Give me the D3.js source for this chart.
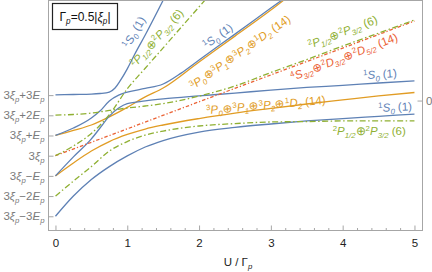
<!DOCTYPE html>
<html>
<head>
<meta charset="utf-8">
<script src="https://cdn.jsdelivr.net/npm/d3@7"></script>
<style>
  body { margin: 0; background: #fff; }
  text { font-family: "Liberation Sans", Arial, sans-serif; }
</style>
</head>
<body>
<svg id="chart" width="432" height="272"></svg>
<script>
// x: U / Gamma_p, y: energy in units of E_p measured from 3 xi_p
const uTicks = [0, 1, 2, 3, 4, 5];
const levelTicks = [3, 2, 1, 0, -1, -2, -3];
const levelTickLabels = ["+3", "+2", "+", "", "\u2212", "\u22122", "\u22123"];
const rightTicks = [{ v: 2.73, label: "0" }];

const uGrid = [0, 0.25, 0.5, 0.75, 1, 1.25, 1.5, 2, 2.5, 3, 3.5, 4, 4.5, 5];

// 1S0 (1) levels
const blueA_u = [0, 0.25, 0.5, 0.62, 0.75, 0.83, 0.9, 1, 1.1, 1.25, 1.5, 1.75];
const blueA_v = [3.01, 3.03, 3.05, 3.08, 3.15, 3.35, 3.7, 4.3, 5.0, 5.98, 7.7, 9.5];
const blueB_u = [0, 0.25, 0.5, 0.62, 0.75, 0.88, 1, 1.25, 1.5, 1.75, 2, 2.5, 3, 3.25];
const blueB_v = [1.0, 1.37, 1.87, 2.21, 2.71, 3.0, 3.15, 3.33, 3.55, 4.09, 4.74, 6.02, 7.31, 7.95];
const blueC_u = [0, 0.25, 0.5, 0.62, 0.75, 0.88, 1, 1.25, 1.5, 2, 2.5, 3, 3.5, 4, 4.5, 5];
const blueC_v = [-1.0, -0.06, 0.83, 1.37, 1.96, 2.36, 2.58, 2.71, 2.81, 2.96, 3.1, 3.25, 3.38, 3.48, 3.6, 3.7];
const blueD_v = [-3.0, -2.0, -1.18, -0.54, -0.01, 0.43, 0.75, 1.17, 1.4, 1.57, 1.72, 1.84, 1.95, 2.06];

// 2P1/2 + 2P3/2 (6) levels
const greenA_u = [0, 0.25, 0.5, 0.75, 1, 1.25, 1.5, 2, 2.25];
const greenA_v = [0, 0.48, 1.1, 2.03, 3.31, 4.33, 5.34, 7.37, 8.39];
const greenB_v = [2.01, 2.04, 2.11, 2.24, 2.36, 2.46, 2.58, 2.95, 3.45, 4.12, 4.76, 5.43, 6.07, 6.72];
const greenC_v = [-2.0, -1.26, -0.54, 0.23, 0.7, 1.02, 1.22, 1.47, 1.59, 1.67, 1.69, 1.72, 1.72, 1.72];

// 3P + 1D (14) levels
const orangeA_u = [0, 0.25, 0.5, 0.75, 1, 1.25, 1.5, 2, 2.5, 3, 3.25];
const orangeA_v = [1.0, 1.25, 1.52, 1.92, 2.39, 2.91, 3.35, 4.64, 5.92, 7.21, 7.9];
const orangeB_v = [-1.0, -0.36, 0.23, 0.7, 1.05, 1.32, 1.52, 1.84, 2.11, 2.34, 2.56, 2.76, 2.96, 3.13];

// 4S + 2D (14) level
const red_u = [0, 1, 2, 3, 4, 5];
const red_v = [0, 1.33, 2.67, 4.0, 5.33, 6.67];

const COLORS = { blue: "#5e81b5", orange: "#e19c24", green: "#8fb032", red: "#eb6235" };
const DASH = { blue: null, orange: null, green: "6,2.5,1.5,2.5", red: "3.5,2,1.2,2" };

const series = [
  { kind: "orange", u: orangeA_u, v: orangeA_v },
  { kind: "orange", u: uGrid, v: orangeB_v },
  { kind: "blue", u: blueA_u, v: blueA_v },
  { kind: "blue", u: blueB_u, v: blueB_v },
  { kind: "blue", u: blueC_u, v: blueC_v },
  { kind: "blue", u: uGrid, v: blueD_v },
  { kind: "red", u: red_u, v: red_v },
  { kind: "green", u: greenA_u, v: greenA_v },
  { kind: "green", u: uGrid, v: greenB_v },
  { kind: "green", u: uGrid, v: greenC_v },
];

// term labels: segments are [style, text]
const S1 = [["sup", "1"], ["it", "S"], ["sub", "0"], ["n", " (1)"]];
const P6 = [["sup", "2"], ["it", "P"], ["sub", "1/2"], ["n", "\u2295"], ["sup", "2"], ["it", "P"], ["sub", "3/2"], ["n", " (6)"]];
const PD14 = [["sup", "3"], ["it", "P"], ["sub", "0"], ["n", "\u2295"], ["sup", "3"], ["it", "P"], ["sub", "1"], ["n", "\u2295"],
  ["sup", "3"], ["it", "P"], ["sub", "2"], ["n", "\u2295"], ["sup", "1"], ["it", "D"], ["sub", "2"], ["n", " (14)"]];
const SD14 = [["sup", "4"], ["it", "S"], ["sub", "3/2"], ["n", "\u2295"], ["sup", "2"], ["it", "D"], ["sub", "3/2"], ["n", "\u2295"],
  ["sup", "2"], ["it", "D"], ["sub", "5/2"], ["n", " (14)"]];

const termLabels = [
  { parts: S1, kind: "blue", u: 1.093, v: 6.12, angle: -60 },
  { parts: P6, kind: "green", u: 1.41, v: 5.83, angle: -48 },
  { parts: S1, kind: "blue", u: 2.26, v: 5.93, angle: -36 },
  { parts: PD14, kind: "orange", u: 2.57, v: 5.13, angle: -35 },
  { parts: P6, kind: "green", u: 4.0, v: 6.12, angle: -21 },
  { parts: SD14, kind: "red", u: 4.02, v: 4.89, angle: -21 },
  { parts: S1, kind: "blue", u: 4.52, v: 4.04, angle: -4 },
  { parts: PD14, kind: "orange", u: 2.93, v: 2.51, angle: -5 },
  { parts: S1, kind: "blue", u: 4.73, v: 2.41, angle: -3 },
  { parts: P6, kind: "green", u: 4.37, v: 1.22, angle: 0 },
];

const svg = d3.select("#chart");
const plot = { left: 48, right: 422, top: 0, bottom: 230 };

const x = d3.scaleLinear().domain([-0.104, 5.105]).range([plot.left, plot.right]);
const y = d3.scaleLinear().domain([-3.68, 7.71]).range([plot.bottom, plot.top]);

svg.append("defs").append("clipPath").attr("id", "plot-clip")
  .append("rect")
  .attr("x", plot.left).attr("y", plot.top)
  .attr("width", plot.right - plot.left).attr("height", plot.bottom - plot.top);

const line = d3.line()
  .x((d) => x(d[0]))
  .y((d) => y(d[1]))
  .curve(d3.curveMonotoneX);

const curves = svg.append("g").attr("clip-path", "url(#plot-clip)");
curves.selectAll("path")
  .data(series)
  .join("path")
  .attr("d", (s) => line(s.u.map((u, i) => [u, s.v[i]])))
  .attr("fill", "none")
  .attr("stroke", (s) => COLORS[s.kind])
  .attr("stroke-width", 1.3)
  .attr("stroke-dasharray", (s) => DASH[s.kind]);

// small script helpers (numeric shifts render more predictably than "sub"/"super")
function sub(textSel, str) {
  return textSel.append("tspan").text(str)
    .attr("font-size", "68%").attr("baseline-shift", -2.5).attr("font-style", "italic");
}
function sup(textSel, str) {
  return textSel.append("tspan").text(str)
    .attr("font-size", "68%").attr("baseline-shift", 4);
}

function writeParts(textSel, parts) {
  parts.forEach(([style, str]) => {
    if (style === "sup") return sup(textSel, str);
    if (style === "sub") return sub(textSel, str);
    const t = textSel.append("tspan").text(str);
    if (style === "it") t.attr("font-style", "italic");
  });
}

const labelG = svg.append("g").attr("clip-path", "url(#plot-clip)");
termLabels.forEach((l) => {
  const t = labelG.append("text")
    .attr("transform", `translate(${x(l.u)},${y(l.v)}) rotate(${l.angle})`)
    .attr("y", 4)
    .attr("text-anchor", "middle")
    .attr("font-size", 11.5)
    .attr("fill", COLORS[l.kind]);
  writeParts(t, l.parts);
});

// frame
const FRAME = "#a6a6a6";
svg.append("rect")
  .attr("x", plot.left + 0.5).attr("y", plot.top + 0.5)
  .attr("width", plot.right - plot.left).attr("height", plot.bottom - plot.top)
  .attr("fill", "none").attr("stroke", FRAME);

// bottom ticks (major + minor, pointing inward)
const minor = d3.range(0, 5.01, 0.2).filter((u) => Math.abs(u - Math.round(u)) > 1e-6);
svg.append("g").selectAll("line")
  .data(uTicks.map((u) => ({ u, len: 5 })).concat(minor.map((u) => ({ u, len: 2.5 }))))
  .join("line")
  .attr("x1", (d) => x(d.u) + 0.5).attr("x2", (d) => x(d.u) + 0.5)
  .attr("y1", plot.bottom + 0.5).attr("y2", (d) => plot.bottom + 0.5 - d.len)
  .attr("stroke", FRAME);

svg.append("g").selectAll("text")
  .data(uTicks)
  .join("text")
  .attr("x", (d) => x(d) + 0.5)
  .attr("y", 247)
  .attr("text-anchor", "middle")
  .attr("font-size", 11.5)
  .attr("fill", "#222")
  .text((d) => d);

// x axis title
const xt = svg.append("text")
  .attr("x", 238).attr("y", 266)
  .attr("text-anchor", "middle")
  .attr("font-size", 11.5)
  .attr("fill", "#222");
xt.append("tspan").text("U / \u0393");
sub(xt, "p");

// left ticks and labels
svg.append("g").selectAll("line")
  .data(levelTicks)
  .join("line")
  .attr("x1", plot.left + 0.5).attr("x2", plot.left + 5.5)
  .attr("y1", (d) => y(d) + 0.5).attr("y2", (d) => y(d) + 0.5)
  .attr("stroke", FRAME);

const TICK_TEXT = "#7a7a7a";
levelTicks.forEach((lv, i) => {
  const t = svg.append("text")
    .attr("x", 44.5)
    .attr("y", y(lv) + 4)
    .attr("text-anchor", "end")
    .attr("font-size", 11.5)
    .attr("fill", TICK_TEXT);
  t.append("tspan").text("3");
  t.append("tspan").text("\u03be").attr("font-style", "italic");
  sub(t, "p");
  const s = levelTickLabels[i];
  if (s) {
    t.append("tspan").text(s);
    t.append("tspan").text("E").attr("font-style", "italic");
    sub(t, "p");
  }
});

// right axis
svg.append("g").selectAll("line")
  .data(rightTicks)
  .join("line")
  .attr("x1", plot.right + 0.5).attr("x2", plot.right - 4.5)
  .attr("y1", (d) => y(d.v) + 0.5).attr("y2", (d) => y(d.v) + 0.5)
  .attr("stroke", FRAME);
svg.append("g").selectAll("text")
  .data(rightTicks)
  .join("text")
  .attr("x", plot.right + 4)
  .attr("y", (d) => y(d.v) + 4.5)
  .attr("font-size", 11.5)
  .attr("fill", TICK_TEXT)
  .text((d) => d.label);

// parameter box
const box = svg.append("g");
box.append("rect")
  .attr("x", 52.5).attr("y", 3.5).attr("width", 65).attr("height", 26)
  .attr("fill", "#fff").attr("stroke", "#222").attr("stroke-width", 1.2);
const bt = box.append("text").attr("x", 85).attr("y", 21).attr("text-anchor", "middle")
  .attr("font-size", 12).attr("fill", "#111");
bt.append("tspan").text("\u0393");
sub(bt, "p");
bt.append("tspan").text("=0.5|");
bt.append("tspan").text("\u03be").attr("font-style", "italic");
sub(bt, "p");
bt.append("tspan").text("|");
</script>
</body>
</html>
